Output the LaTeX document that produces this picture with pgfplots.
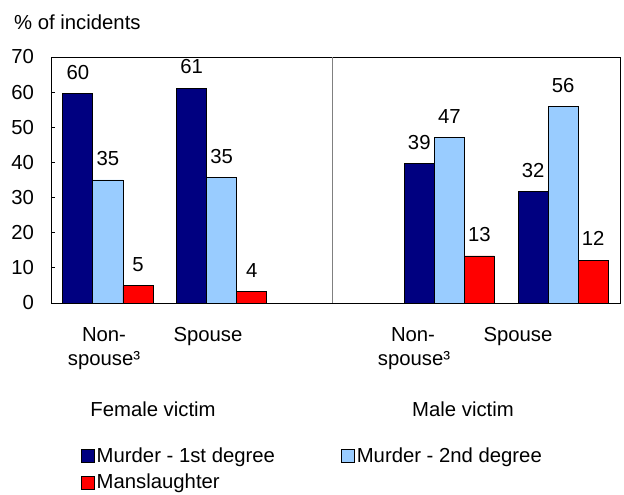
\documentclass[border=0pt]{standalone}
\usepackage{pgfplots}
\pgfplotsset{compat=1.18}
\usepackage{fontspec}
\setmainfont{Liberation Sans}
\definecolor{navy}{HTML}{000080}
\definecolor{lblue}{HTML}{99CCFF}
\definecolor{bred}{HTML}{FF0000}
\newcommand{\cf}{\fontsize{20.3}{24}\selectfont}
\begin{document}
\cf
\begin{tikzpicture}[x=1pt,y=1pt]
\path[use as bounding box] (0,0) rectangle (624,495);
\begin{axis}[
 at={(51pt,192pt)}, anchor=south west,
 scale only axis, width=569pt, height=246pt,
 xmin=-0.5, xmax=4.5, ymin=0, ymax=70,
 ytick={0,10,...,70}, xtick=\empty,
 tick align=inside, ytick pos=left, major tick length=4pt,
 axis line style={line width=0.9pt},
 every tick/.style={black, line width=0.8pt},
 ybar=0pt, bar width=0.264,
 /pgf/number format/assume math mode=true,
 tick label style={font=\cf},
 yticklabel style={xshift=-10pt},
 point meta=explicit symbolic,
 nodes near coords,
 every node near coord/.append style={font=\cf, yshift=7pt, black},
 legend style={draw=none, fill=none, at={(0.047,-0.572)}, anchor=north west, font=\cf,
   row sep=4.5pt,
   /tikz/every even column/.append style={column sep=64pt}},
 legend cell align=left,
 legend columns=2,
 legend image code/.code={\draw[#1,draw=black,line width=0.8pt] (0pt,-6pt) rectangle (13pt,7pt);},
]
\addplot[fill=navy, draw=black, line width=0.8pt] coordinates {(0,59.5) [60] (1,61.1) [61] (3,39.6) [39] (4,31.7) [32]};
\addplot[fill=lblue, draw=black, line width=0.8pt] coordinates {(0,35.0) [35] (1,35.7) [35] (3,47.0) [47] (4,55.9) [56]};
\addplot[fill=bred, draw=black, line width=0.8pt] coordinates {(0,4.9) [5] (1,3.3) [4] (3,13.4) [13] (4,12.2) [12]};
\legend{Murder - 1st degree, Murder - 2nd degree, Manslaughter}
\draw[gray, line width=0.8pt] (axis cs:1.97,0) -- (axis cs:1.97,70);
\end{axis}
\begin{scope}[every node/.style={inner sep=0pt, font=\cf}]
\node[anchor=base west] at (14,465) {\% of incidents};
\node[anchor=base] at (104,153) {Non-};
\node[anchor=base] at (104,129) {spouse³};
\node[anchor=base] at (208,153) {Spouse};
\node[anchor=base] at (413,153) {Non-};
\node[anchor=base] at (414,129) {spouse³};
\node[anchor=base] at (518,153) {Spouse};
\node[anchor=base] at (153,78) {Female victim};
\node[anchor=base] at (463,78) {Male victim};
\end{scope}
\end{tikzpicture}
\end{document}
